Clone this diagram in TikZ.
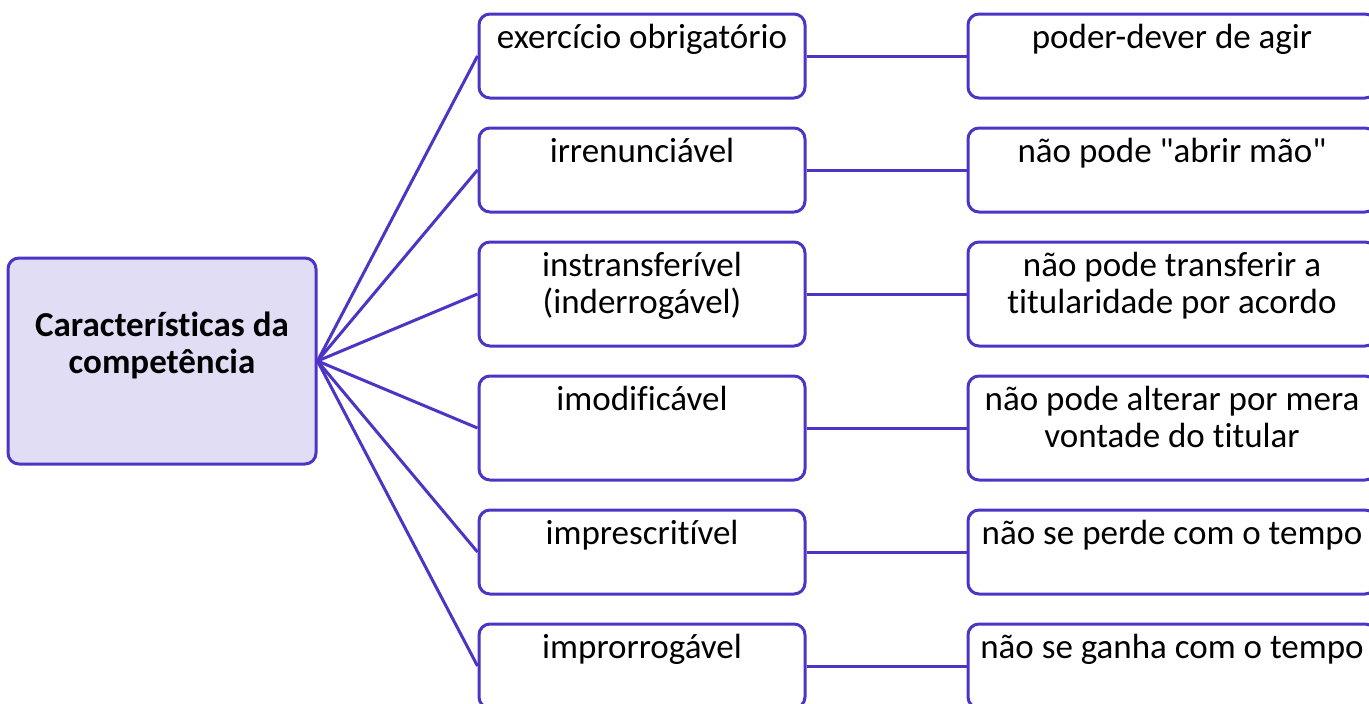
\documentclass[tikz,border=0pt]{standalone}
\usepackage{fontspec}
\setmainfont{Carlito}[Ligatures=TeXOff,RawFeature={-liga}]
\definecolor{edgec}{RGB}{78,52,196}
\definecolor{fillc}{RGB}{224,221,245}
\begin{document}
\begin{tikzpicture}[x=1pt,y=-1pt,
  box/.style={draw=edgec,line width=3pt,rounded corners=11pt,fill=white,inner sep=0pt},
  midbox/.style={box,minimum width=326pt},
  rightbox/.style={box,minimum width=408pt},
  txt/.style={anchor=base,inner sep=0pt,align=center,font=\fontsize{35}{37}\selectfont},
  conn/.style={edgec,line width=3pt}]
\useasboundingbox (0,0) rectangle (1369,704);
\clip (0,0) rectangle (1369,704);
\node[box,fill=fillc,minimum width=308pt,minimum height=206pt] (c) at (162,361) {};
\node[txt,font=\fontsize{35}{37}\selectfont\bfseries] (ct) at (162,373) {Características da\\competência};
% middle boxes
\node[midbox,minimum height=84pt] (m1) at (642,56) {};
\node[midbox,minimum height=84pt] (m2) at (642,170) {};
\node[midbox,minimum height=104pt] (m3) at (642,294) {};
\node[midbox,minimum height=104pt] (m4) at (642,428) {};
\node[midbox,minimum height=84pt] (m5) at (642,552) {};
\node[midbox,minimum height=84pt] (m6) at (642,666) {};
% right boxes
\node[rightbox,minimum height=84pt] (r1) at (1172,56) {};
\node[rightbox,minimum height=84pt] (r2) at (1172,170) {};
\node[rightbox,minimum height=104pt] (r3) at (1172,294) {};
\node[rightbox,minimum height=104pt] (r4) at (1172,428) {};
\node[rightbox,minimum height=84pt] (r5) at (1172,552) {};
\node[rightbox,minimum height=84pt] (r6) at (1172,666) {};
% texts
\node[txt] (t1) at ([yshift=-36pt]m1.north) {exercício obrigatório};
\node[txt] (t2) at ([yshift=-36pt]m2.north) {irrenunciável};
\node[txt] (t3) at ([yshift=-73pt]m3.north) {instransferível\\(inderrogável)};
\node[txt] (t4) at ([yshift=-36pt]m4.north) {imodificável};
\node[txt] (t5) at ([yshift=-36pt]m5.north) {imprescritível};
\node[txt] (t6) at ([yshift=-36pt]m6.north) {improrrogável};
\node[txt] (u1) at ([yshift=-36pt]r1.north) {poder-dever de agir};
\node[txt] (u2) at ([yshift=-36pt]r2.north) {não pode "abrir mão"};
\node[txt] (u3) at ([yshift=-73pt]r3.north) {não pode transferir a\\titularidade por acordo};
\node[txt] (u4) at ([yshift=-73pt]r4.north) {não pode alterar por mera\\vontade do titular};
\node[txt] (u5) at ([yshift=-36pt]r5.north) {não se perde com o tempo};
\node[txt] (u6) at ([yshift=-36pt]r6.north) {não se ganha com o tempo};
% connectors
\foreach \i in {1,...,6}{
  \draw[conn] (c.east) -- (m\i.west);
  \draw[conn] (m\i.east) -- (r\i.west);
}
\end{tikzpicture}
\end{document}
